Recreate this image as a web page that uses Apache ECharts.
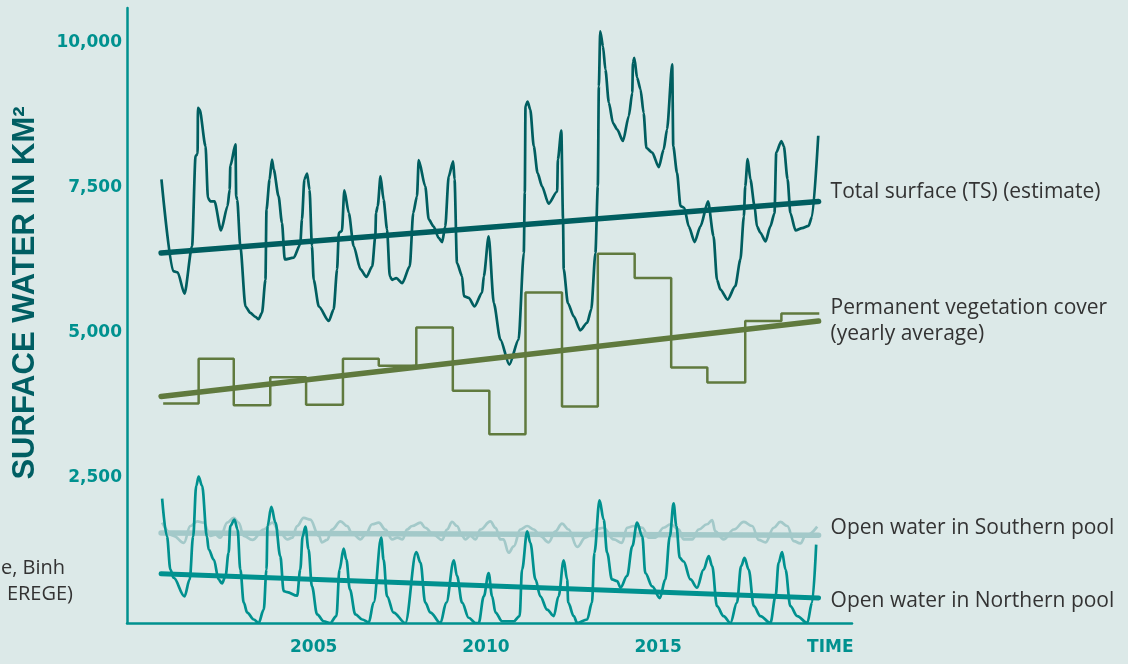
<!DOCTYPE html>
<html>
<head>
<meta charset="utf-8">
<title>Surface water</title>
<script src="https://cdn.jsdelivr.net/npm/echarts@6/dist/echarts.min.js"></script>
<style>
  html, body { margin: 0; padding: 0; background: #dce9e8; }
  #main { width: 1128px; height: 664px; }
</style>
</head>
<body>
<div id="main"></div>
<script>
// tick labels
var xTickYears = [2005, 2010, 2015, 2020];
var yTickValues = [2500, 5000, 7500, 10000];

// total surface (TS), km2
var tsYears = [
  2000.58, 2000.92, 2001.05, 2001.25, 2001.47, 2001.57, 2001.63, 2001.64, 2001.69, 2001.86,
  2001.93, 2002.00, 2002.12, 2002.31, 2002.50, 2002.56, 2002.58, 2002.73, 2002.75, 2002.78,
  2002.87, 2003.02, 2003.16, 2003.31, 2003.40, 2003.50, 2003.60, 2003.63, 2003.72, 2003.79,
  2003.84, 2003.98, 2004.08, 2004.16, 2004.42, 2004.61, 2004.66, 2004.73, 2004.81, 2004.88,
  2004.95, 2005.00, 2005.15, 2005.44, 2005.58, 2005.68, 2005.73, 2005.82, 2005.89, 2006.02,
  2006.16, 2006.36, 2006.53, 2006.70, 2006.79, 2006.81, 2006.86, 2006.94, 2007.03, 2007.13,
  2007.21, 2007.28, 2007.40, 2007.57, 2007.79, 2007.89, 2008.00, 2008.05, 2008.24, 2008.34,
  2008.48, 2008.63, 2008.73, 2008.82, 2008.92, 2009.05, 2009.09, 2009.16, 2009.31, 2009.36,
  2009.50, 2009.67, 2009.89, 2009.94, 2010.08, 2010.23, 2010.42, 2010.68, 2010.95, 2011.10,
  2011.13, 2011.15, 2011.21, 2011.29, 2011.39, 2011.50, 2011.63, 2011.82, 2012.07, 2012.09,
  2012.19, 2012.24, 2012.26, 2012.38, 2012.55, 2012.74, 2012.94, 2013.06, 2013.18, 2013.25,
  2013.28, 2013.32, 2013.40, 2013.47, 2013.57, 2013.69, 2013.81, 2013.98, 2014.15, 2014.25,
  2014.27, 2014.31, 2014.39, 2014.49, 2014.58, 2014.66, 2014.83, 2015.02, 2015.16, 2015.26,
  2015.41, 2015.44, 2015.55, 2015.65, 2015.76, 2015.89, 2016.06, 2016.23, 2016.45, 2016.61,
  2016.71, 2016.81, 2017.02, 2017.24, 2017.39, 2017.49, 2017.53, 2017.60, 2017.68, 2017.80,
  2017.87, 2017.97, 2018.12, 2018.26, 2018.38, 2018.43, 2018.58, 2018.65, 2018.76, 2018.84,
  2018.99, 2019.18, 2019.37, 2019.47, 2019.65
];
var tsValues = [
  7640, 6060, 6040, 5670, 6490, 8040, 8080, 8870, 8840, 8210,
  7320, 7260, 7260, 6760, 7180, 7460, 7870, 8240, 7350, 7290,
  6490, 5450, 5340, 5270, 5230, 5340, 5910, 7120, 7640, 7980,
  7810, 7350, 6890, 6260, 6290, 6520, 6950, 7640, 7740, 7460,
  6490, 5910, 5450, 5200, 5400, 6090, 6720, 6750, 7450, 7060,
  6490, 6090, 5960, 6140, 6660, 7060, 7180, 7690, 7290, 6780,
  5970, 5910, 5940, 5850, 6140, 7060, 7350, 7970, 7520, 6950,
  6830, 6630, 6560, 6830, 7690, 7950, 7640, 6200, 5970, 5630,
  5600, 5450, 5690, 5970, 6660, 5510, 4880, 4450, 4880, 6370,
  7410, 8900, 8980, 8840, 8210, 7750, 7520, 7220, 7430, 7980,
  8480, 6950, 6090, 5510, 5280, 5040, 5170, 5400, 6370, 7520,
  9240, 10190, 9930, 9530, 8960, 8610, 8500, 8300, 8730, 9130,
  9650, 9730, 9390, 9190, 8780, 8180, 8100, 7850, 8150, 8500,
  9620, 8210, 7750, 7180, 7150, 6830, 6560, 6830, 7260, 6660,
  5910, 5740, 5570, 5800, 6260, 7000, 7520, 7990, 7640, 7180,
  6830, 6720, 6570, 6830, 7060, 8100, 8300, 8210, 7640, 7060,
  6760, 6800, 6840, 7000, 8390
];

// permanent vegetation cover, yearly average (step edges, one value per step)
var vegYears = [
  2000.63, 2001.66, 2002.68, 2003.74, 2004.78, 2005.85, 2006.89, 2007.98, 2009.04, 2010.10,
  2011.15, 2012.21, 2013.25, 2014.32, 2015.38, 2016.43, 2017.53, 2018.58, 2019.68
];
var vegValues = [
  3780, 4550, 3750, 4230, 3760, 4550, 4430, 5090, 4000, 3250,
  5690, 3730, 6360, 5940, 4400, 4140, 5200, 5330
];

// open water in southern pool
var southYears = [
  2000.60, 2000.93, 2001.23, 2001.42, 2001.62, 2001.80, 2002.00, 2002.15, 2002.29, 2002.49,
  2002.68, 2002.82, 2002.97, 2003.22, 2003.55, 2003.80, 2004.03, 2004.24, 2004.38, 2004.52,
  2004.71, 2004.90, 2005.15, 2005.24, 2005.39, 2005.53, 2005.78, 2005.97, 2006.11, 2006.36,
  2006.50, 2006.70, 2006.89, 2007.08, 2007.28, 2007.43, 2007.58, 2007.71, 2007.86, 2008.10,
  2008.24, 2008.48, 2008.73, 2008.87, 2009.02, 2009.16, 2009.31, 2009.40, 2009.55, 2009.70,
  2009.84, 2010.13, 2010.28, 2010.42, 2010.51, 2010.66, 2010.81, 2011.00, 2011.20, 2011.39,
  2011.58, 2011.82, 2012.02, 2012.21, 2012.40, 2012.65, 2012.89, 2013.18, 2013.42, 2013.71,
  2013.95, 2014.10, 2014.29, 2014.54, 2014.73, 2014.92, 2015.16, 2015.36, 2015.60, 2015.74,
  2015.99, 2016.18, 2016.42, 2016.57, 2016.66, 2016.90, 2017.20, 2017.49, 2017.73, 2017.92,
  2018.12, 2018.36, 2018.55, 2018.75, 2018.94, 2019.13, 2019.28, 2019.62
];
var southValues = [
  1730, 1500, 1380, 1670, 1750, 1730, 1500, 1520, 1470, 1730,
  1810, 1730, 1500, 1430, 1610, 1730, 1550, 1440, 1470, 1670,
  1810, 1780, 1500, 1390, 1430, 1610, 1750, 1670, 1550, 1440,
  1520, 1700, 1730, 1610, 1440, 1470, 1440, 1610, 1670, 1730,
  1640, 1520, 1430, 1610, 1740, 1670, 1500, 1440, 1500, 1440,
  1610, 1750, 1640, 1440, 1440, 1210, 1320, 1610, 1670, 1610,
  1500, 1390, 1580, 1710, 1610, 1310, 1470, 1610, 1640, 1440,
  1380, 1640, 1670, 1640, 1470, 1470, 1640, 1700, 1610, 1440,
  1440, 1610, 1700, 1770, 1580, 1440, 1610, 1740, 1670, 1430,
  1390, 1640, 1740, 1670, 1410, 1370, 1500, 1660
];

// open water in northern pool
var northYears = [
  2000.60, 2000.74, 2000.84, 2000.93, 2001.25, 2001.40, 2001.50, 2001.59, 2001.66, 2001.76,
  2001.90, 2001.95, 2002.10, 2002.24, 2002.34, 2002.44, 2002.53, 2002.58, 2002.70, 2002.79,
  2002.87, 2002.97, 2003.07, 2003.26, 2003.40, 2003.55, 2003.63, 2003.66, 2003.77, 2003.89,
  2004.03, 2004.13, 2004.23, 2004.52, 2004.61, 2004.68, 2004.76, 2004.85, 2004.95, 2005.10,
  2005.29, 2005.48, 2005.66, 2005.75, 2005.87, 2005.95, 2006.05, 2006.21, 2006.41, 2006.60,
  2006.74, 2006.96, 2007.03, 2007.13, 2007.32, 2007.66, 2007.98, 2008.10, 2008.24, 2008.39,
  2008.68, 2008.85, 2009.07, 2009.16, 2009.31, 2009.50, 2009.70, 2009.79, 2009.94, 2010.08,
  2010.18, 2010.28, 2010.47, 2010.81, 2010.98, 2011.05, 2011.20, 2011.29, 2011.44, 2011.58,
  2011.78, 2011.97, 2012.11, 2012.26, 2012.36, 2012.39, 2012.55, 2012.65, 2012.94, 2013.08,
  2013.15, 2013.30, 2013.42, 2013.52, 2013.66, 2013.81, 2013.91, 2014.10, 2014.25, 2014.39,
  2014.54, 2014.63, 2014.83, 2015.05, 2015.21, 2015.34, 2015.45, 2015.53, 2015.63, 2015.74,
  2015.94, 2016.13, 2016.32, 2016.47, 2016.57, 2016.71, 2016.90, 2017.10, 2017.29, 2017.41,
  2017.51, 2017.63, 2017.78, 2017.97, 2018.26, 2018.41, 2018.50, 2018.60, 2018.70, 2018.84,
  2019.04, 2019.33, 2019.47, 2019.59
];
var northValues = [
  2140, 1490, 920, 780, 460, 750, 1490, 2360, 2520, 2360,
  1490, 1270, 1090, 750, 680, 810, 1210, 1670, 1780, 1610,
  920, 350, 180, 60, 0, 230, 920, 1670, 2000, 1730,
  1150, 550, 530, 470, 920, 1490, 1660, 1270, 630, 150,
  30, 0, 120, 920, 1280, 1090, 580, 150, 60, 10,
  350, 1470, 1090, 460, 180, 0, 1220, 1040, 350, 180,
  0, 350, 1080, 810, 350, 90, 0, 0, 460, 860,
  460, 180, 30, 30, 120, 920, 1580, 1380, 750, 460,
  230, 120, 460, 1080, 750, 350, 120, 0, 60, 350,
  1210, 2110, 1780, 1210, 750, 720, 610, 810, 1320, 1730,
  1490, 860, 630, 430, 750, 1490, 2060, 1670, 1120, 1060,
  750, 610, 920, 1150, 980, 290, 120, 0, 350, 980,
  1120, 920, 290, 120, 0, 460, 1040, 1220, 920, 290,
  120, 0, 350, 1350
];

// linear trends (start, end)
var trendYears = [2000.57, 2019.66];
var tsTrend = [6370, 7260];
var vegTrend = [3900, 5200];
var southTrend = [1550, 1510];
var northTrend = [850, 430];

var teal = "#00918f";
var labelFont = "Open Sans";

function pairs(xs, ys) {
  return xs.map(function (x, i) {
    return [x, ys[Math.min(i, ys.length - 1)]];
  });
}

function trend(name, values, color, width, text, dy) {
  return {
    name: name,
    type: "line",
    data: pairs(trendYears, values),
    showSymbol: false,
    lineStyle: { color: color, width: width, cap: "round" },
    endLabel: {
      show: true,
      formatter: text,
      distance: 12,
      offset: [0, dy],
      color: "#333",
      fontFamily: labelFont,
      fontSize: 21,
      lineHeight: 26
    }
  };
}

var chart = echarts.init(document.getElementById("main"));

chart.setOption({
  backgroundColor: "#dce9e8",
  animation: false,
  grid: { left: 127, right: 276, top: 8, bottom: 41 },
  xAxis: {
    type: "value",
    min: 1999.58,
    max: 2020.63,
    axisLine: { lineStyle: { color: teal, width: 2.5 } },
    axisTick: { show: false },
    splitLine: { show: false },
    axisLabel: {
      customValues: xTickYears,
      formatter: function (v) {
        return v === 2020 ? "TIME" : String(v);
      },
      color: teal,
      fontFamily: "DejaVu Sans",
      fontWeight: "bold",
      fontSize: 17,
      margin: 16
    }
  },
  yAxis: {
    type: "value",
    min: 0,
    max: 10590,
    axisLine: { show: true, lineStyle: { color: teal, width: 2.5 } },
    axisTick: { show: false },
    splitLine: { show: false },
    axisLabel: {
      customValues: yTickValues,
      formatter: function (v) {
        return String(v).replace(/\B(?=(\d{3})+(?!\d))/g, ",");
      },
      color: teal,
      fontFamily: "DejaVu Sans",
      fontWeight: "bold",
      fontSize: 17,
      margin: 5
    }
  },
  graphic: [
    {
      type: "text",
      x: 25,
      y: 293,
      rotation: Math.PI / 2,
      style: {
        text: "SURFACE WATER IN KM²",
        fill: "#005e63",
        font: 'bold 31px "Liberation Sans"',
        align: "center",
        verticalAlign: "middle"
      }
    },
    {
      type: "text",
      x: 65,
      y: 568,
      style: { text: "e, Binh", fill: "#333", font: '20px "Open Sans"', align: "right", verticalAlign: "middle" }
    },
    {
      type: "text",
      x: 73,
      y: 594,
      style: { text: "EREGE)", fill: "#333", font: '20px "Open Sans"', align: "right", verticalAlign: "middle" }
    }
  ],
  series: [
    {
      name: "Total surface",
      type: "line",
      data: pairs(tsYears, tsValues),
      showSymbol: false,
      smooth: 0.25,
      smoothMonotone: "x",
      lineStyle: { color: "#005e60", width: 2.7 }
    },
    trend("TS trend", tsTrend, "#005e60", 5.5, "Total surface (TS) (estimate)", -9),
    {
      name: "Permanent vegetation",
      type: "line",
      step: "end",
      data: pairs(vegYears, vegValues),
      showSymbol: false,
      lineStyle: { color: "#607a3e", width: 2.5 }
    },
    trend("Vegetation trend", vegTrend, "#607a3e", 5.5, "Permanent vegetation cover\n(yearly average)", 0),
    {
      name: "Southern pool",
      type: "line",
      data: pairs(southYears, southValues),
      showSymbol: false,
      smooth: 0.4,
      smoothMonotone: "x",
      lineStyle: { color: "#a3c9c9", width: 2.7 }
    },
    trend("Southern trend", southTrend, "#a3c9c9", 5.5, "Open water in Southern pool", -7),
    {
      name: "Northern pool",
      type: "line",
      data: pairs(northYears, northValues),
      showSymbol: false,
      smooth: 0.35,
      smoothMonotone: "x",
      lineStyle: { color: teal, width: 2.7 }
    },
    trend("Northern trend", northTrend, teal, 5, "Open water in Northern pool", 3)
  ]
});
</script>
</body>
</html>
